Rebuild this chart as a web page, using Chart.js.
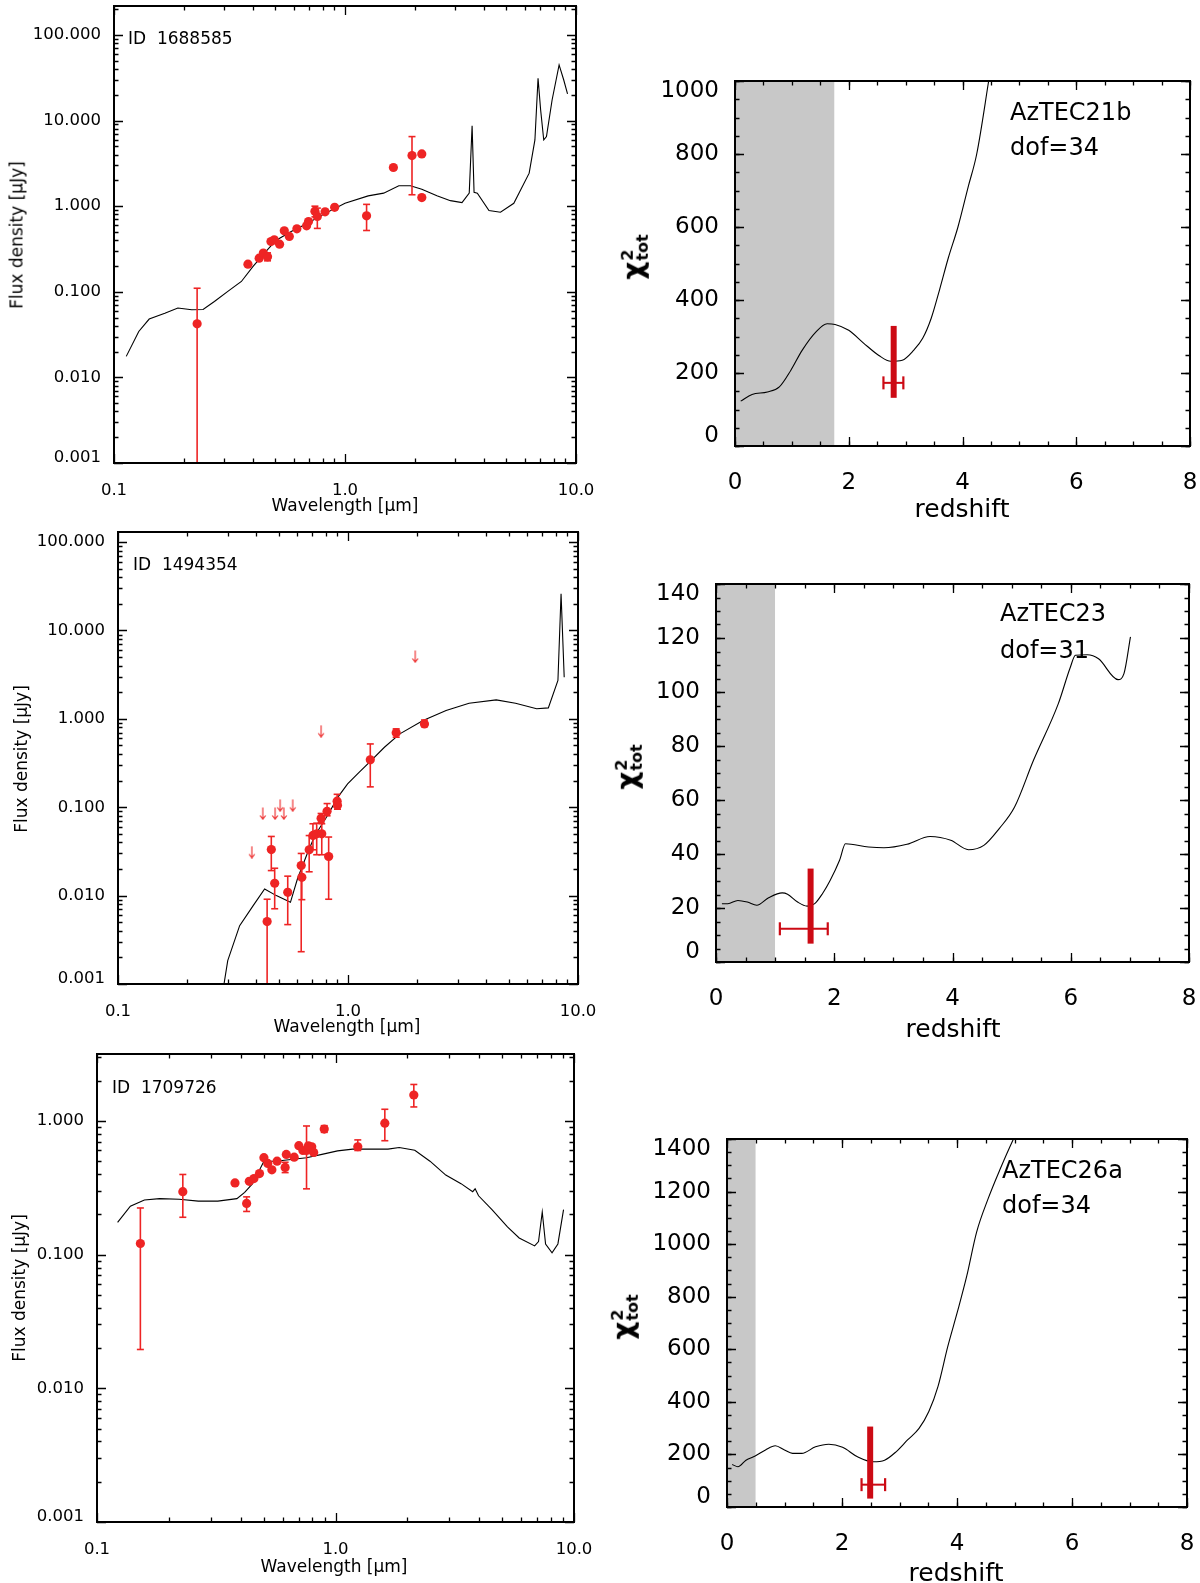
<!DOCTYPE html>
<html><head><meta charset="utf-8">
<script src="https://cdn.jsdelivr.net/npm/chart.js@4/dist/chart.umd.min.js"></script>
<style>
body{margin:0;background:#fff;width:1200px;height:1583px;position:relative;overflow:hidden;font-family:"DejaVu Sans",sans-serif}
canvas{position:absolute}
.t{position:absolute;white-space:nowrap;color:#000;line-height:1;z-index:5}
.l{font-size:17px}
.r{font-size:24px}
.rot{transform:translate(-50%,-50%) rotate(-90deg)}
.ctr{transform:translate(-50%,-50%)}
.lft{transform:translateY(-50%)}
.chi{font-weight:bold;font-size:28px}
.chi .st{display:inline-block;vertical-align:middle;font-size:16px;line-height:0.95;text-align:left;margin-left:1px}
.chi .st span{display:block}
</style></head><body>
<script>
// ================= DATA =================
// SED model (left panels), wavelength [um] / flux density [uJy]
const tlModelX=[0.113,0.128,0.142,0.166,0.189,0.217,0.243,0.272,0.311,0.356,0.40,0.448,0.502,0.585,0.682,0.826,1.0,1.26,1.47,1.71,1.92,2.15,2.5,2.86,3.21,3.45,3.55,3.62,3.74,4.2,4.71,5.38,6.27,6.64,6.85,7.03,7.25,7.45,7.88,8.45,8.85,9.19];
const tlModelY=[0.0176,0.0344,0.048,0.056,0.0646,0.0617,0.062,0.077,0.101,0.132,0.198,0.283,0.398,0.506,0.622,0.83,1.08,1.32,1.42,1.73,1.73,1.58,1.32,1.16,1.10,1.42,8.7,1.45,1.42,0.89,0.85,1.08,2.43,5.94,31.2,13.3,5.94,6.5,17.4,44.7,29.8,20.5];
const tlX=[0.229,0.380,0.425,0.443,0.462,0.478,0.494,0.521,0.546,0.574,0.619,0.682,0.695,0.741,0.759,0.82,0.902,1.24,1.62,1.95,2.15,2.15];
const tlY=[0.0423,0.21,0.247,0.283,0.256,0.387,0.405,0.36,0.515,0.443,0.544,0.589,0.662,0.875,0.76,0.86,0.97,0.771,2.83,3.9,4.08,1.26];
const tlLo=[0.0001,null,null,null,0.23,null,null,null,null,null,null,null,null,0.75,0.55,null,null,0.52,null,1.36,null,null];
const tlHi=[0.110,null,null,null,0.285,null,null,null,null,null,null,null,null,1.0,0.95,null,null,1.05,null,6.5,null,null];

const mlModelX=[0.284,0.289,0.30,0.338,0.387,0.434,0.488,0.562,0.603,0.664,0.718,0.806,0.904,0.996,1.12,1.26,1.44,1.68,2.12,2.67,3.36,4.41,5.35,6.61,7.43,8.18,8.44,8.71];
const mlModelY=[0.0007,0.001,0.00184,0.00457,0.0077,0.0119,0.01,0.0084,0.0155,0.0296,0.0478,0.077,0.13,0.184,0.249,0.337,0.477,0.676,0.957,1.24,1.50,1.64,1.50,1.30,1.33,2.72,26,2.96];
const mlX=[0.445,0.464,0.48,0.547,0.626,0.63,0.678,0.704,0.731,0.769,0.764,0.811,0.824,0.897,0.90,1.25,1.62,2.15];
const mlY=[0.00508,0.0332,0.0138,0.0109,0.0219,0.0161,0.033,0.048,0.05,0.05,0.075,0.090,0.0277,0.117,0.105,0.344,0.695,0.877];
const mlLo=[0.0001,0.0192,0.0071,0.0047,0.00232,0.009,0.0186,0.033,0.029,0.029,0.067,0.08,0.0091,0.10,0.095,0.17,0.62,0.82];
const mlHi=[0.0091,0.0467,0.0204,0.0166,0.030,0.022,0.0478,0.065,0.066,0.065,0.085,0.11,0.046,0.14,0.12,0.52,0.77,0.97];
const mlLimX=[0.382,0.426,0.482,0.507,0.526,0.575,0.764,1.96];
const mlLimY=[0.031,0.085,0.085,0.105,0.085,0.105,0.724,5.08];

const blModelX=[0.122,0.138,0.158,0.183,0.221,0.266,0.321,0.386,0.416,0.449,0.501,0.561,0.651,0.756,0.877,1.02,1.18,1.37,1.66,1.85,2.15,2.49,2.90,3.36,3.76,3.85,3.98,4.53,5.26,5.89,6.84,7.1,7.36,7.6,8.09,8.56,9.04];
const blModelY=[0.174,0.23,0.256,0.262,0.259,0.251,0.251,0.262,0.292,0.339,0.499,0.499,0.514,0.53,0.561,0.596,0.614,0.614,0.614,0.632,0.603,0.499,0.393,0.339,0.295,0.31,0.275,0.217,0.161,0.133,0.116,0.125,0.208,0.12,0.103,0.12,0.217];
const blX=[0.152,0.229,0.379,0.424,0.435,0.455,0.480,0.501,0.52,0.541,0.569,0.615,0.622,0.671,0.702,0.73,0.756,0.77,0.795,0.81,0.897,1.24,1.61,2.13];
const blY=[0.121,0.295,0.343,0.241,0.353,0.37,0.403,0.53,0.48,0.43,0.499,0.448,0.561,0.535,0.652,0.6,0.6,0.65,0.64,0.58,0.867,0.64,0.96,1.56];
const blLo=[0.0195,0.19,null,0.21,null,null,null,null,null,null,null,0.41,null,null,null,null,0.31,null,null,null,0.82,0.6,0.71,1.27];
const blHi=[0.223,0.397,null,0.27,null,null,null,null,null,null,null,0.49,null,null,null,null,0.915,null,null,null,0.92,0.72,1.22,1.87];

// chi^2 vs redshift (right panels)
const trZ=[0.1,0.3,0.57,0.78,0.98,1.18,1.42,1.62,1.76,2.0,2.26,2.53,2.74,2.94,3.14,3.3,3.45,3.6,3.75,3.92,4.1,4.25,4.46,4.55];
const trChi=[123,141,148,162,207,262,312,335,333,317,282,248,232,235,262,295,350,430,515,600,710,800,1000,1090];
const mrZ=[0.1,0.2,0.37,0.53,0.69,0.89,1.12,1.21,1.38,1.54,1.67,1.80,1.93,2.09,2.19,2.58,2.84,3.23,3.62,3.97,4.27,4.53,4.79,5.05,5.37,5.79,5.99,6.08,6.28,6.47,6.8,6.9,7.01];
const mrChi=[21.6,21.6,22.8,22.2,21.0,23.8,25.6,25.1,22.2,20.7,21.6,25.3,30.2,37.7,43.8,42.6,42.3,43.6,46.5,45.1,41.6,43.2,49.4,57.4,74.7,95.7,109,113.6,113.8,112.3,104.6,106.8,120.4];
const brZ=[0.09,0.19,0.33,0.49,0.67,0.84,1.0,1.14,1.3,1.54,1.77,2.01,2.27,2.54,2.74,2.94,3.14,3.34,3.51,3.67,3.84,4.01,4.17,4.34,4.54,4.74,4.98,5.05];
const brChi=[162,153,178,194,217,233,217,204,204,229,239,227,191,172,178,210,255,299,363,459,611,745,879,1045,1172,1280,1399,1430];
const greyZ=[1.75,1.0,0.5];              // upper edge of shaded redshift range
const bestZ=[2.79,1.60,2.49];            // best-fit redshift (thick bar)
const bestBarLo=[132,6.8,32], bestBarHi=[329,34.6,306];
const errZLo=[2.61,1.08,2.34], errZHi=[2.96,1.89,2.75], errChi=[173,12.3,85];

// ticks / labels
const sedXTicks=[0.1,1,10], sedXLabels=['0.1','1.0','10.0'];
const sedYTicks=[0.001,0.01,0.1,1,10,100], sedYLabels=['0.001','0.010','0.100','1.000','10.000','100.000'];
const blYTicks=[0.001,0.01,0.1,1], blYLabels=['0.001','0.010','0.100','1.000'];
const zTicks=[0,2,4,6,8], zLabels=['0','2','4','6','8'];
const trYTicks=[0,200,400,600,800,1000], trYLabels=['0','200','400','600','800','1000'];
const mrYTicks=[0,20,40,60,80,100,120,140], mrYLabels=['0','20','40','60','80','100','120','140'];
const brYTicks=[0,200,400,600,800,1000,1200,1400], brYLabels=['0','200','400','600','800','1000','1200','1400'];

// ================= RENDER =================
const RED='#ee2424', RED2='#cc0a14', FONT='"DejaVu Sans", sans-serif';

function logMinor(lo,hi){const o=[];for(let d=lo;d<=hi;d++)for(let k=2;k<=9;k++)o.push(k*Math.pow(10,d));return o;}
function linMinor(min,max,step){const o=[];for(let v=min;v<=max+1e-9;v+=step)o.push(+v.toFixed(6));return o;}

const frameTicks={id:'frameTicks',afterDatasetsDraw(chart,args,o){
  const {ctx,chartArea:a,scales:{x,y}}=chart;
  ctx.save();ctx.strokeStyle='#000';ctx.lineWidth=1.3;
  const draw=(vals,len,s,h)=>vals.forEach(v=>{
    if(v<s.min-1e-12||v>s.max+1e-12)return;
    const p=Math.round(s.getPixelForValue(v))+0.5;
    ctx.beginPath();
    if(h){ctx.moveTo(p,a.bottom);ctx.lineTo(p,a.bottom-len);ctx.moveTo(p,a.top);ctx.lineTo(p,a.top+len);}
    else{ctx.moveTo(a.left,p);ctx.lineTo(a.left+len,p);ctx.moveTo(a.right,p);ctx.lineTo(a.right-len,p);}
    ctx.stroke();});
  draw(o.xMajor,9,x,true);draw(o.xMinor,4.5,x,true);draw(o.yMajor,9,y,false);draw(o.yMinor,4.5,y,false);
  ctx.lineWidth=2;ctx.strokeRect(a.left,a.top,a.right-a.left,a.bottom-a.top);
  ctx.restore();}};

function pts(xs,ys){return xs.map((v,i)=>({x:v,y:ys[i]}));}

function makeChart(box,datasets,sc){
  const cv=document.createElement('canvas');
  cv.width=box.cw;cv.height=box.ch;cv.style.left=box.cx+'px';cv.style.top=box.cy+'px';
  document.body.appendChild(cv);
  const padL=box.L-box.cx,padT=box.T-box.cy,padR=box.cx+box.cw-box.R,padB=box.cy+box.ch-box.B;
  const zero=s=>{s.paddingLeft=0;s.paddingRight=0;s.paddingTop=0;s.paddingBottom=0;};
  const lab=(labels,i,n,vertical)=>{const s=labels[i];if(!vertical)return s;
    if(i===0&&sc.shiftBottom)return [s,''];if(i===n-1&&sc.shiftTop)return ['',s];return s;};
  new Chart(cv,{type:'scatter',data:{datasets},options:{
    responsive:false,animation:false,devicePixelRatio:1,events:[],
    layout:{padding:{top:padT,right:padR,left:0,bottom:0}},
    plugins:{legend:{display:false},tooltip:{enabled:false},
      frameTicks:{xMajor:sc.xTicks,xMinor:sc.xMinor,yMajor:sc.yTicks,yMinor:sc.yMinor}},
    scales:{
      x:{type:sc.xType,min:sc.xMin,max:sc.xMax,grid:{display:false},border:{display:false},
        afterBuildTicks:s=>{s.ticks=sc.xTicks.map(v=>({value:v}));},
        afterFit:s=>{s.height=padB;zero(s);},
        ticks:{autoSkip:false,maxRotation:0,minRotation:0,padding:sc.xPad,color:'#000',
          font:{family:FONT,size:sc.fs},callback:(v,i)=>sc.xLabels[i]}},
      y:{type:sc.yType,min:sc.yMin,max:sc.yMax,grid:{display:false},border:{display:false},
        afterBuildTicks:s=>{s.ticks=sc.yTicks.map(v=>({value:v}));},
        afterFit:s=>{s.width=padL;zero(s);},
        ticks:{autoSkip:false,padding:sc.yPad,color:'#000',
          font:{family:FONT,size:sc.fs,lineHeight:sc.lh},callback:(v,i)=>lab(sc.yLabels,i,sc.yTicks.length,true)}}
    }},plugins:[frameTicks]});
}

// arrow point style (upper limits)
const arrow=document.createElement('canvas');arrow.width=8;arrow.height=13;
{const c=arrow.getContext('2d');c.strokeStyle='#ee3a3a';c.lineWidth=1.2;c.beginPath();
 c.moveTo(4,0.5);c.lineTo(4,12);c.moveTo(1.2,8.5);c.lineTo(4,12.2);c.lineTo(6.8,8.5);c.stroke();}

function sedDatasets(mx,my,xs,ys,lo,hi,limX,limY){
  const ds=[{data:pts(mx,my),showLine:true,borderColor:'#000',borderWidth:1.1,pointRadius:0,order:5}];
  xs.forEach((x,i)=>{if(lo[i]==null)return;
    ds.push({data:[{x,y:lo[i]},{x,y:hi[i]}],showLine:true,borderColor:RED,borderWidth:1.6,
      pointStyle:'line',pointRadius:3.5,pointBorderWidth:1.6,pointBorderColor:RED,order:3});});
  ds.push({data:pts(xs,ys),pointRadius:4.6,pointBackgroundColor:RED,pointBorderColor:RED,pointBorderWidth:0,order:1});
  if(limX)ds.push({data:pts(limX,limY),pointStyle:arrow,pointRadius:4,order:2});
  return ds;
}
function chiDatasets(z,c,k,ymax){
  return [
    {data:[{x:0,y:ymax},{x:greyZ[k],y:ymax}],showLine:true,fill:'start',backgroundColor:'#c8c8c8',borderWidth:0,pointRadius:0,order:10},
    {data:pts(z,c),showLine:true,borderColor:'#000',borderWidth:1.1,pointRadius:0,cubicInterpolationMode:'monotone',order:5},
    {data:[{x:bestZ[k],y:bestBarLo[k]},{x:bestZ[k],y:bestBarHi[k]}],showLine:true,borderColor:RED2,borderWidth:6,borderCapStyle:'butt',pointRadius:0,order:2},
    {data:[{x:errZLo[k],y:errChi[k]},{x:errZHi[k],y:errChi[k]}],showLine:true,borderColor:RED2,borderWidth:2,
      pointStyle:'line',rotation:90,pointRadius:6.5,pointBorderWidth:2.2,pointBorderColor:RED2,order:1}
  ];
}

const logX={xType:'logarithmic',xMin:0.1,xMax:10,xTicks:sedXTicks,xLabels:sedXLabels,xMinor:logMinor(-1,0),
  yType:'logarithmic',fs:16.5,xPad:10,yPad:5,lh:0.6,shiftBottom:true,shiftTop:false};
makeChart({cx:0,cy:0,cw:600,ch:520,L:114,T:6,R:576,B:463},
  sedDatasets(tlModelX,tlModelY,tlX,tlY,tlLo,tlHi),
  Object.assign({},logX,{yMin:0.001,yMax:218,yTicks:sedYTicks,yLabels:sedYLabels,yMinor:logMinor(-3,2)}));
makeChart({cx:0,cy:520,cw:600,ch:520,L:118,T:532,R:578,B:984},
  sedDatasets(mlModelX,mlModelY,mlX,mlY,mlLo,mlHi,mlLimX,mlLimY),
  Object.assign({},logX,{yMin:0.001,yMax:130,yTicks:sedYTicks,yLabels:sedYLabels,yMinor:logMinor(-3,2)}));
makeChart({cx:0,cy:1040,cw:600,ch:543,L:97,T:1054,R:574,B:1522},
  sedDatasets(blModelX,blModelY,blX,blY,blLo,blHi),
  Object.assign({},logX,{yMin:0.001,yMax:3.16,yTicks:blYTicks,yLabels:blYLabels,yMinor:logMinor(-3,0)}));

const linZ={xType:'linear',xMin:0,xMax:8,xTicks:zTicks,xLabels:zLabels,xMinor:linMinor(0,8,0.5),
  yType:'linear',yMin:0,fs:23,xPad:15,yPad:8,lh:0.85,shiftBottom:true,shiftTop:true};
makeChart({cx:600,cy:0,cw:600,ch:520,L:735,T:81,R:1190,B:446},chiDatasets(trZ,trChi,0,1000),
  Object.assign({},linZ,{yMax:1000,yTicks:trYTicks,yLabels:trYLabels,yMinor:linMinor(0,1000,50)}));
makeChart({cx:600,cy:520,cw:600,ch:520,L:716,T:584,R:1189,B:962},chiDatasets(mrZ,mrChi,1,140),
  Object.assign({},linZ,{yMax:140,yTicks:mrYTicks,yLabels:mrYLabels,yMinor:linMinor(0,140,5)}));
makeChart({cx:600,cy:1040,cw:600,ch:543,L:727,T:1139,R:1187,B:1507},chiDatasets(brZ,brChi,2,1400),
  Object.assign({},linZ,{yMax:1400,yTicks:brYTicks,yLabels:brYLabels,yMinor:linMinor(0,1400,50)}));
</script>

<!-- left panel texts -->
<div class="t l lft" style="left:128px;top:38px">ID&nbsp;&nbsp;1688585</div>
<div class="t l lft" style="left:133px;top:564px">ID&nbsp;&nbsp;1494354</div>
<div class="t l lft" style="left:112px;top:1087px">ID&nbsp;&nbsp;1709726</div>
<div class="t l rot" style="left:17px;top:235px">Flux density [μJy]</div>
<div class="t l rot" style="left:21px;top:759px">Flux density [μJy]</div>
<div class="t l rot" style="left:19px;top:1288px">Flux density [μJy]</div>
<div class="t l ctr" style="left:345px;top:505px">Wavelength [μm]</div>
<div class="t l ctr" style="left:347px;top:1026px">Wavelength [μm]</div>
<div class="t l ctr" style="left:334px;top:1566px">Wavelength [μm]</div>
<!-- right panel texts -->
<div class="t r lft" style="left:1010px;top:112px">AzTEC21b</div>
<div class="t r lft" style="left:1010px;top:147px">dof=34</div>
<div class="t r lft" style="left:1000px;top:613px">AzTEC23</div>
<div class="t r lft" style="left:1000px;top:650px">dof=31</div>
<div class="t r lft" style="left:1002px;top:1170px">AzTEC26a</div>
<div class="t r lft" style="left:1002px;top:1205px">dof=34</div>
<div class="t r ctr" style="left:962px;top:508px;font-size:25px">redshift</div>
<div class="t r ctr" style="left:953px;top:1028px;font-size:25px">redshift</div>
<div class="t r ctr" style="left:956px;top:1572px;font-size:25px">redshift</div>
<div class="t chi rot" style="left:635px;top:257px">χ<span class="st"><span>2</span><span>tot</span></span></div>
<div class="t chi rot" style="left:629px;top:767px">χ<span class="st"><span>2</span><span>tot</span></span></div>
<div class="t chi rot" style="left:625px;top:1317px">χ<span class="st"><span>2</span><span>tot</span></span></div>
</body></html>
